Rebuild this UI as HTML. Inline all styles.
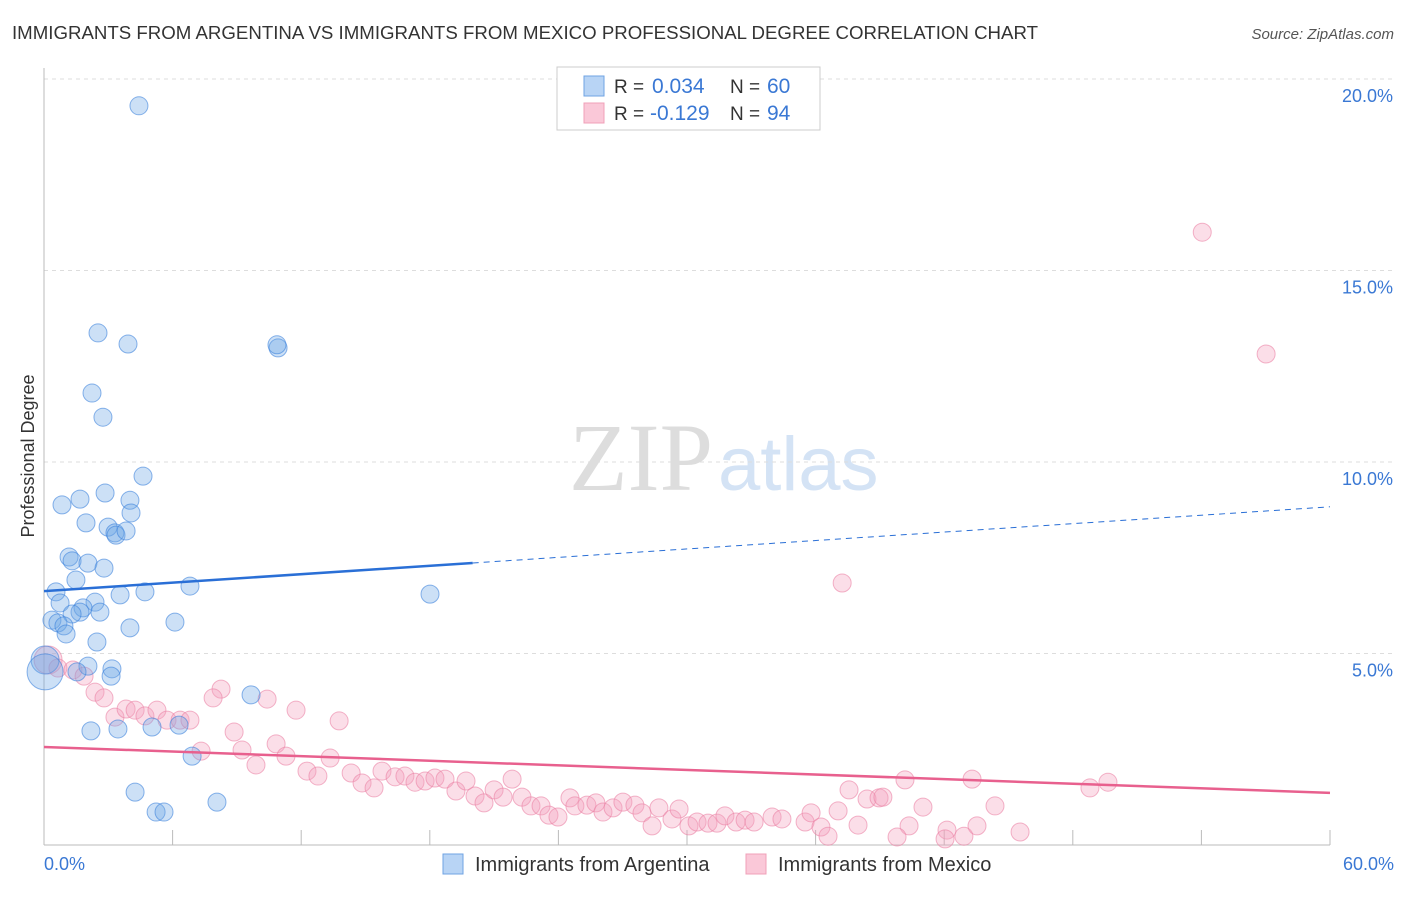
<!DOCTYPE html>
<html><head><meta charset="utf-8"><style>
body{margin:0;background:#fff;font-family:"Liberation Sans",sans-serif}
svg text{font-family:"Liberation Sans",sans-serif}
</style></head><body>
<svg id="chart" width="1406" height="892" viewBox="0 0 1406 892" xmlns="http://www.w3.org/2000/svg">
<text x="12" y="39" font-size="18" fill="#333" textLength="1026" lengthAdjust="spacingAndGlyphs">IMMIGRANTS FROM ARGENTINA VS IMMIGRANTS FROM MEXICO PROFESSIONAL DEGREE CORRELATION CHART</text>
<text x="1394" y="39" font-size="15" fill="#555" font-style="italic" text-anchor="end">Source: ZipAtlas.com</text>
<g>
<text x="713" y="490" font-size="96" fill="#ddd" text-anchor="end" style="font-family:'Liberation Serif',serif">ZIP</text>
<text x="718" y="490" font-size="76" fill="#d4e3f5">atlas</text>
</g>
<g id="grid"></g>
<g id="axes"></g>
<g id="pts"></g>
<g id="trends"></g>
<text transform="translate(34,456) rotate(-90)" font-size="18" fill="#333" text-anchor="middle">Professional Degree</text>
<text x="44" y="870" font-size="18" fill="#3a78d4">0.0%</text>
<text x="1394" y="870" font-size="18" fill="#3a78d4" text-anchor="end">60.0%</text>
<g>
<rect x="557" y="67" width="263" height="63" fill="#fff" stroke="#ccc"/>
<rect x="584" y="76" width="20" height="20" fill="#b8d4f5" stroke="#6fa3e3"/>
<rect x="584" y="103" width="20" height="20" fill="#fac8d8" stroke="#f0a0b8"/>
<text x="614" y="93" font-size="19" fill="#333">R = <tspan x="652" fill="#3a78d4" font-size="21">0.034</tspan><tspan x="730">N = </tspan><tspan x="767" fill="#3a78d4" font-size="21">60</tspan></text>
<text x="614" y="120" font-size="19" fill="#333">R = <tspan x="650" fill="#3a78d4" font-size="21">-0.129</tspan><tspan x="730">N = </tspan><tspan x="767" fill="#3a78d4" font-size="21">94</tspan></text>
</g>
<g>
<rect x="443" y="854" width="20" height="20" fill="#b8d4f5" stroke="#6fa3e3"/>
<text x="475" y="871" font-size="20" fill="#333">Immigrants from Argentina</text>
<rect x="746" y="854" width="20" height="20" fill="#fac8d8" stroke="#f0a0b8"/>
<text x="778" y="871" font-size="20" fill="#333">Immigrants from Mexico</text>
</g>
</svg>
<script>
const yTicks=[5,10,15,20];
const yTickLabels=["5.0%","10.0%","15.0%","20.0%"];
const xTicks=[6,12,18,24,30,36,42,48,54,60];
const argX=[4.43,2.52,3.92,10.92,10.87,2.24,2.75,4.62,0.84,1.68,2.85,4.01,4.06,1.96,2.99,3.31,3.36,3.83,1.17,1.31,2.05,2.80,1.49,6.81,3.55,4.71,18.01,0.56,0.75,2.38,1.82,1.68,1.31,2.61,0.37,0.65,0.93,1.03,6.11,4.01,2.47,0.05,0.05,2.05,3.17,3.13,1.54,9.66,2.19,3.45,5.04,6.30,6.91,4.25,5.23,5.60,8.07];
const argY=[19.3,13.37,13.08,12.98,13.06,11.8,11.17,9.63,8.88,9.03,9.19,9.0,8.67,8.41,8.30,8.15,8.09,8.2,7.52,7.42,7.36,7.23,6.92,6.76,6.53,6.61,6.55,6.61,6.32,6.34,6.19,6.08,6.03,6.08,5.87,5.80,5.72,5.51,5.82,5.67,5.30,4.83,4.52,4.67,4.6,4.41,4.52,3.92,2.98,3.03,3.08,3.13,2.32,1.38,0.86,0.86,1.12];
const argR=[9,9,9,9,9,9,9,9,9,9,9,9,9,9,9,9,9,9,9,9,9,9,9,9,9,9,9,9,9,9,9,9,9,9,9,9,9,9,9,9,9,14,18,9,9,9,9,9,9,9,9,9,9,9,9,9,9];
const mexX=[54.04,57.02,37.24,0.19,0.65,1.35,1.87,2.38,2.80,8.26,7.89,3.31,3.83,4.25,4.71,5.27,5.74,6.35,6.81,10.41,11.76,13.77,8.87,7.33,9.24,9.89,10.83,11.29,13.35,12.27,12.78,14.33,14.84,15.40,15.77,16.38,16.84,17.31,17.78,18.24,18.71,19.22,19.69,20.11,20.53,21.00,21.42,21.84,22.30,22.72,23.19,23.56,23.98,24.54,24.77,25.33,25.75,26.08,26.55,27.01,27.57,27.90,28.37,28.69,29.30,29.63,30.09,30.47,30.98,31.40,31.77,32.29,32.71,33.13,33.97,34.43,35.51,35.79,36.25,36.58,37.05,37.56,37.98,38.40,38.96,39.14,40.17,40.36,41.01,39.80,42.13,42.04,43.30,44.37,42.92,43.53,45.54,48.80,49.64];
const mexY=[16.0,12.82,6.84,4.83,4.62,4.57,4.41,3.99,3.84,4.07,3.84,3.34,3.55,3.52,3.37,3.52,3.26,3.26,3.26,3.81,3.52,3.24,2.95,2.45,2.48,2.09,2.64,2.32,2.27,1.93,1.80,1.88,1.62,1.49,1.93,1.78,1.80,1.64,1.67,1.75,1.72,1.41,1.67,1.28,1.10,1.44,1.25,1.72,1.25,1.02,1.02,0.78,0.73,1.23,1.02,1.04,1.10,0.86,0.97,1.12,1.04,0.84,0.50,0.97,0.68,0.94,0.50,0.60,0.57,0.57,0.76,0.60,0.65,0.60,0.73,0.68,0.60,0.84,0.47,0.23,0.89,1.44,0.52,1.20,1.23,1.25,1.70,0.50,0.99,0.21,0.39,0.16,1.72,1.02,0.23,0.50,0.34,1.49,1.64];
const argTrend=[6.63,8.83];
const mexTrend=[2.56,1.36];
const X0=44,X1=1330,Y0=845,YS=38.3;
const sx=v=>X0+v/60*(X1-X0);
const sy=v=>Y0-v*YS;
const NS="http://www.w3.org/2000/svg";
function mk(t,a,p){const e=document.createElementNS(NS,t);for(const k in a)e.setAttribute(k,a[k]);p.appendChild(e);return e;}
const grid=document.getElementById('grid');
yTicks.forEach((t,i)=>{
 const l=mk('line',{x1:X0,x2:1394,y1:sy(t),y2:sy(t),stroke:'#ddd','stroke-dasharray':'4,4'},grid);
 
 
 const tx=mk('text',{x:1393,y:sy(t)+23,'font-size':18,fill:'#3a78d4','text-anchor':'end'},grid);
 tx.textContent=yTickLabels[i];
 
 
});
const axes=document.getElementById('axes');
const ya=mk('line',{x1:X0,x2:X0,y1:68,y2:Y0,stroke:'#bbb'},axes);


const xa=mk('line',{x1:X0,x2:X1,y1:Y0,y2:Y0,stroke:'#bbb'},axes);


xTicks.forEach(t=>{
 const l=mk('line',{x1:sx(t),x2:sx(t),y1:Y0-15,y2:Y0,stroke:'#bbb'},axes);
 
 
});
const pts=document.getElementById('pts');
mexX.forEach((x,i)=>{
 const c=mk('circle',{cx:sx(x),cy:sy(mexY[i]),r:i==3?14:9,fill:'rgba(244,160,188,0.35)',stroke:'rgba(235,130,165,0.6)'},pts);
 
 
});
argX.forEach((x,i)=>{
 const c=mk('circle',{cx:sx(x),cy:sy(argY[i]),r:argR[i],fill:'rgba(110,165,230,0.35)',stroke:'rgba(60,130,220,0.6)'},pts);
 
 
});
const tr=document.getElementById('trends');
const am=argTrend[0]+(argTrend[1]-argTrend[0])*20/60;
const a1=mk('line',{x1:sx(0),y1:sy(argTrend[0]),x2:sx(20),y2:sy(am),stroke:'#2a6fd6','stroke-width':2.5},tr);


const a2=mk('line',{x1:sx(20),y1:sy(am),x2:sx(60),y2:sy(argTrend[1]),stroke:'#2a6fd6','stroke-width':1,'stroke-dasharray':'6,5'},tr);


const m1=mk('line',{x1:sx(0),y1:sy(mexTrend[0]),x2:sx(60),y2:sy(mexTrend[1]),stroke:'#e8608e','stroke-width':2.5},tr);


</script>
</body></html>
